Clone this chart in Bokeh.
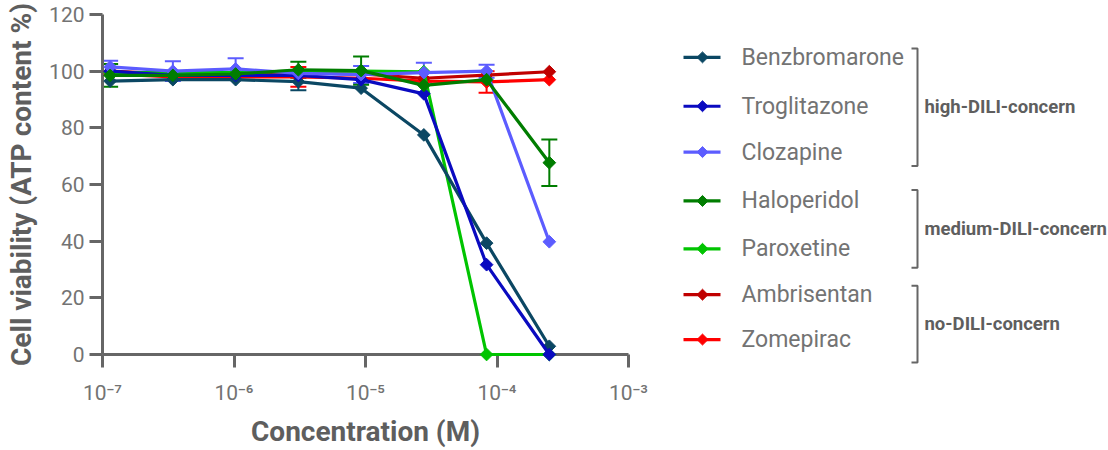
import math
from bokeh.plotting import figure
from bokeh.models import (Range1d, FixedTicker, CustomJSTickFormatter, Whisker, ColumnDataSource,
                          TeeHead, LinearScale)
from bokeh.core.properties import value
from bokeh.embed import file_html
from bokeh.resources import INLINE

# ---------------- data ----------------
conc_uM = [0.1143, 0.3429, 1.029, 3.086, 9.259, 27.78, 83.33, 250.0]
names = ["Benzbromarone", "Troglitazone", "Clozapine", "Haloperidol",
         "Paroxetine", "Ambrisentan", "Zomepirac"]
colors = ["#0b4763", "#0a0ac0", "#5c5cff", "#007d00", "#00c400", "#c00000", "#ff0000"]

benzbromarone = [96.5, 97.0, 97.0, 96.3, 94.0, 77.5, 39.3, 2.9]
troglitazone = [100.0, 98.5, 98.5, 98.5, 97.0, 92.0, 31.7, 0.0]
clozapine = [101.5, 100.0, 100.8, 99.2, 98.8, 99.5, 100.0, 39.8]
haloperidol = [98.5, 98.5, 99.0, 100.5, 100.2, 95.0, 97.0, 67.7]
paroxetine = [99.5, 99.5, 99.5, 100.0, 100.0, 99.8, 0.0, 0.0]
ambrisentan = [100.0, 99.0, 99.0, 99.5, 99.0, 97.5, 98.6, 99.8]
zomepirac = [99.0, 98.0, 98.0, 98.0, 97.5, 96.5, 96.2, 97.0]

# standard deviations (only those large enough to show beyond the markers)
benzbromarone_err = [0, 0, 0, 3.0, 0, 0, 0, 0]
troglitazone_err = [0, 0, 0, 0, 0, 0, 0, 0]
clozapine_err = [2.2, 3.5, 3.8, 0, 3.0, 3.5, 2.3, 0]
haloperidol_err = [4.0, 0, 0, 2.8, 5.0, 0, 0, 8.2]
paroxetine_err = [0, 0, 0, 0, 0, 0, 0, 0]
ambrisentan_err = [0, 0, 0, 0, 0, 0, 0, 0]
zomepirac_err = [0, 0, 0, 3.5, 0, 0, 3.8, 0]

series = [benzbromarone, troglitazone, clozapine, haloperidol, paroxetine, ambrisentan, zomepirac]
errors = [benzbromarone_err, troglitazone_err, clozapine_err, haloperidol_err,
          paroxetine_err, ambrisentan_err, zomepirac_err]

groups = ["high-DILI-concern", "medium-DILI-concern", "no-DILI-concern"]

x_ticks = [1e-7, 1e-6, 1e-5, 1e-4, 1e-3]
y_ticks = [0, 20, 40, 60, 80, 100, 120]

AX = "#666666"
LBL = "#737373"
TTL = "#5e5e5e"

# ---------------- figure ----------------
# frame: canvas x 102..628, canvas y 14..355
p = figure(width=1108, height=450, x_axis_type="log", output_backend="svg",
           toolbar_location=None, x_range=Range1d(1e-7, 1e-3), y_range=Range1d(0, 120),
           min_border_left=102, min_border_right=480, min_border_top=14, min_border_bottom=95)
p.outline_line_color = None
p.grid.visible = False

# pixel-like helper ranges for the legend panel (canvas coordinates)
p.extra_x_ranges = {"px": Range1d(102, 628)}
p.extra_x_scales = {"px": LinearScale()}
p.extra_y_ranges = {"py": Range1d(355, 14)}
p.extra_y_scales = {"py": LinearScale()}

conc_M = [c * 1e-6 for c in conc_uM]
draw_order = [6, 5, 4, 0, 1, 2, 3]
for i in draw_order:
    ys = series[i]
    es = errors[i]
    src = ColumnDataSource(dict(x=conc_M, y=ys))
    keep = [k for k, e in enumerate(es) if e > 0]
    if keep:
        wsrc = ColumnDataSource(dict(x=[conc_M[k] for k in keep],
                                     lo=[ys[k] - es[k] for k in keep],
                                     hi=[ys[k] + es[k] for k in keep]))
        w = Whisker(source=wsrc, base="x", upper="hi", lower="lo", dimension="height",
                    line_color=colors[i], line_width=2,
                    upper_head=TeeHead(size=16, line_color=colors[i], line_width=2),
                    lower_head=TeeHead(size=16, line_color=colors[i], line_width=2))
        p.add_layout(w)
    p.line("x", "y", source=src, line_color=colors[i], line_width=3.2, level="overlay")
    p.scatter("x", "y", source=src, marker="square", angle=math.pi / 4, size=9,
              fill_color=colors[i], line_color=colors[i], level="overlay")

xa = p.xaxis[0]
xa.ticker = FixedTicker(ticks=x_ticks)
xa.formatter = CustomJSTickFormatter(code="""
const e = Math.round(Math.log10(tick));
const sup = {"-":"\\u207B","0":"\\u2070","1":"\\u00B9","2":"\\u00B2","3":"\\u00B3","4":"\\u2074","5":"\\u2075","6":"\\u2076","7":"\\u2077","8":"\\u2078","9":"\\u2079"};
return "10" + String(e).split("").map(c => sup[c]).join("");
""")
ya = p.yaxis[0]
ya.ticker = FixedTicker(ticks=y_ticks)

for ax in (xa, ya):
    ax.axis_line_color = AX
    ax.axis_line_width = 3
    ax.major_tick_line_color = AX
    ax.major_tick_line_width = 3
    ax.major_tick_out = 13
    ax.major_tick_in = 0
    ax.minor_tick_line_color = None
    ax.major_label_text_font = "Roboto"
    ax.major_label_text_font_size = "21px"
    ax.major_label_text_color = LBL
    ax.axis_label_text_font = "Roboto"
    ax.axis_label_text_font_style = "bold"
    ax.axis_label_text_font_size = "28px"
    ax.axis_label_text_color = TTL

xa.axis_label = "Concentration (M)"
xa.major_label_standoff = 13
xa.axis_label_standoff = 7
ya.axis_label = "Cell viability (ATP content %)"
ya.major_label_standoff = 5
ya.axis_label_standoff = 8

# ---------------- legend (canvas coordinates) ----------------
row_y = [57, 106, 152, 201, 249, 295, 340]
lx0, lx1, lxm, tx = 683, 720, 702, 741
dh = 5.5
for i, n in enumerate(names):
    p.line([lx0, lx1], [row_y[i], row_y[i]], line_color=colors[i], line_width=3.2,
           x_range_name="px", y_range_name="py", level="overlay")
    yy = row_y[i]
    p.patch([lxm - dh, lxm, lxm + dh, lxm], [yy, yy - dh, yy, yy + dh],
            fill_color=colors[i], line_color=colors[i], line_width=1,
            x_range_name="px", y_range_name="py", level="overlay")
p.text(x=[tx] * len(names), y=row_y, text=names, text_font=value("Roboto"),
       text_font_size="23px", text_color=LBL, text_baseline="middle", text_align="left",
       x_range_name="px", y_range_name="py", level="overlay")

br_top = [48, 190, 286]
br_bot = [166, 268, 363]
br_x = 917
for g in range(len(groups)):
    p.line([911, br_x, br_x, 911], [br_top[g], br_top[g], br_bot[g], br_bot[g]],
           line_color=AX, line_width=2, x_range_name="px", y_range_name="py", level="overlay")
p.text(x=[924] * len(groups), y=[(a + b) / 2 for a, b in zip(br_top, br_bot)], text=groups,
       text_font=value("Roboto"), text_font_style="bold", text_font_size="18.5px",
       text_color=TTL, text_baseline="middle", text_align="left",
       x_range_name="px", y_range_name="py", level="overlay")

with open("out.html", "w", encoding="utf-8") as f:
    f.write(file_html(p, INLINE))
